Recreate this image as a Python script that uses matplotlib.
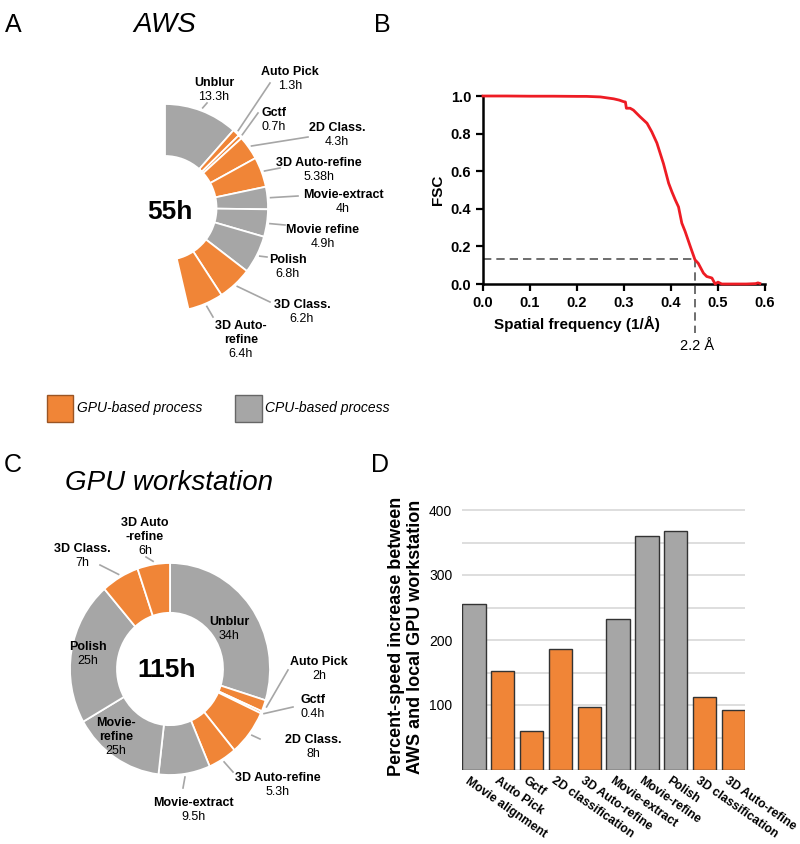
import matplotlib.pyplot as plt
import matplotlib.patches as mpatches
import matplotlib.transforms as mtransforms
import numpy as np

plt.rcParams['font.family'] = ['Liberation Sans', 'DejaVu Sans']

W, H = 800, 844
ORANGE = '#F08537'
GRAY = '#A6A6A6'
LEAD = '#A6A6A6'

# A: AWS processing time per step (hours)
aws_steps = ['Unblur', 'Auto Pick', 'Gctf', '2D Class.', '3D Auto-refine', 'Movie-extract',
             'Movie refine', 'Polish', '3D Class.', '3D Auto-\nrefine']
aws_hours = [13.3, 1.3, 0.7, 4.3, 5.38, 4, 4.9, 6.8, 6.2, 6.4]
aws_gpu = [False, True, True, True, True, False, False, False, True, True]
aws_total = '55h'
full_circle_hours = 115  # AWS ring is drawn on the 115h scale of the workstation

# C: GPU workstation processing time per step
ws_steps = ['Unblur', 'Auto Pick', 'Gctf', '2D Class.', '3D Auto-refine', 'Movie-extract',
            'Movie-\nrefine', 'Polish', '3D Class.', '3D Auto\n-refine']
ws_hour_labels = ['34h', '2h', '0.4h', '8h', '5.3h', '9.5h', '25h', '25h', '7h', '6h']
# wedge sizes as drawn in the figure (the Movie-refine wedge is drawn at ~17h)
ws_wedge_hours = [34, 2, 0.4, 8, 5.3, 9.5, 17, 25, 7, 6]
ws_gpu = [False, True, True, True, True, False, False, False, True, True]
ws_total = '115h'

# B: FSC curve
fsc_freq = [0, 0.05, 0.10, 0.15, 0.20, 0.22, 0.25, 0.278, 0.29, 0.299, 0.303, 0.305, 0.313,
            0.32, 0.334, 0.349, 0.359, 0.370, 0.384, 0.395, 0.402, 0.409, 0.416, 0.423, 0.430,
            0.441, 0.451, 0.458, 0.469, 0.476, 0.487, 0.494, 0.5, 0.508, 0.52, 0.54, 0.56,
            0.58, 0.585, 0.589]
fsc_val = [1.0, 1.0, 0.999, 0.999, 0.998, 0.998, 0.995, 0.985, 0.978, 0.970, 0.968, 0.935,
           0.935, 0.925, 0.89, 0.855, 0.81, 0.75, 0.64, 0.536, 0.49, 0.448, 0.41, 0.324, 0.28,
           0.20, 0.129, 0.11, 0.058, 0.04, 0.032, 0.0, 0.01, 0.0, 0.0, 0.0, 0.0, 0.002, 0.006,
           0.003]
fsc_cutoff = 0.134
res_freq = 0.45
res_label = '2.2 Å'

# D: speed increase
speed_steps = ['Movie alignment', 'Auto Pick', 'Gctf', '2D classification', '3D Auto-refine',
               'Movie-extract', 'Movie-refine', 'Polish', '3D classification', '3D Auto-refine']
speed_increase = [255, 153, 60, 186, 97, 233, 360, 367, 112, 93]
speed_gpu = [False, True, True, True, True, False, False, False, True, True]


def box(x0, y0, x1, y1):
    return [x0 / W, 1 - y1 / H, (x1 - x0) / W, (y1 - y0) / H]


def ftext(x, y, s, **kw):
    fig.text(x / W, 1 - y / H, s, ha='center', va='center', **kw)


def to_ring(x, y, ring):
    cx, cy, rx, ry = ring
    return (x - cx) / rx, (cy - y) / ry


def ring_axes(ring):
    cx, cy, rx, ry = ring
    return fig.add_axes(box(cx - 1.3 * rx, cy - 1.3 * ry, cx + 1.3 * rx, cy + 1.3 * ry))


def finish_ring(ax):
    ax.set_aspect('auto')
    ax.set_xlim(-1.3, 1.3)
    ax.set_ylim(-1.3, 1.3)
    ax.axis('off')


def ring_labels(ax, ring, wedges, names, hour_texts, anchors, ends):
    for w, name, ht, (lx, ly), end in zip(wedges, names, hour_texts, anchors, ends):
        lines = name.split('\n')
        for i, ln in enumerate(lines):
            ax.text(*to_ring(lx, ly + 14 * i, ring), ln, ha='center', va='center',
                    fontsize=9, fontweight='bold')
        ax.text(*to_ring(lx, ly + 14 * len(lines), ring), ht, ha='center',
                va='center', fontsize=9)
        if end is not None:
            a = np.deg2rad((w.theta1 + w.theta2) / 2)
            ex, ey = to_ring(end[0], end[1], ring)
            ax.plot([1.03 * np.cos(a), ex], [1.03 * np.sin(a), ey], color=LEAD, lw=1.2,
                    clip_on=False)


fig = plt.figure(figsize=(8, 8.44), dpi=100)

# ---- A ----
ring_a = (165, 208, 103, 104)
axA = ring_axes(ring_a)
wedges_a, _ = axA.pie(np.array(aws_hours) / full_circle_hours, normalize=False,
                      startangle=90, counterclock=False,
                      colors=[ORANGE if g else GRAY for g in aws_gpu],
                      wedgeprops=dict(width=0.5, edgecolor='white', linewidth=1.3))
finish_ring(axA)
aws_anchor = [(214, 83), (290, 72), (274, 113), (337, 128), (319, 163), (343, 195),
              (323, 230), (288, 260), (302, 305), (241, 326)]
aws_ends = [(207, 103), (270, 83), (258, 113), (308, 137), (280, 168), (298, 196),
            (285, 225), (267, 257), (270, 302), (213, 317)]
ring_labels(axA, ring_a, wedges_a, aws_steps, [f'{h:g}h' for h in aws_hours],
            aws_anchor, aws_ends)
axA.text(*to_ring(170, 212, ring_a), aws_total, ha='center', va='center', fontsize=19,
         fontweight='bold')

# ---- C ----
ring_c = (170, 669, 100, 106)
axC = ring_axes(ring_c)
wedges_c, _ = axC.pie(ws_wedge_hours, startangle=90, counterclock=False,
                      colors=[ORANGE if g else GRAY for g in ws_gpu],
                      wedgeprops=dict(width=0.47, edgecolor='white', linewidth=1.3))
finish_ring(axC)
ws_anchor = [(229, 622), (319, 662), (313, 700), (313, 740), (278, 778), (193, 803),
             (116, 723), (88, 647), (82, 549), (145, 523)]
ws_ends = [None, (288, 670), (293, 707), (260, 739), (233, 772), (183, 788),
           None, None, (100, 565), (146, 557)]
ring_labels(axC, ring_c, wedges_c, ws_steps, ws_hour_labels, ws_anchor, ws_ends)
axC.text(*to_ring(167, 670, ring_c), ws_total, ha='center', va='center', fontsize=19,
         fontweight='bold')

# ---- B ----
axB = fig.add_axes(box(483, 96, 765, 284))
axB.plot(fsc_freq, fsc_val, color='#EE1C24', lw=2, clip_on=False, zorder=3)
axB.plot([0, res_freq], [fsc_cutoff, fsc_cutoff], color='#555555', lw=1.2, ls=(0, (5, 3)))
axB.plot([res_freq, res_freq], [fsc_cutoff, -0.26], color='#555555', lw=1.2,
         ls=(0, (5, 3)), clip_on=False)
axB.text(res_freq + 0.005, -0.33, res_label, ha='center', va='center', fontsize=10.5)
axB.set_xlim(0, 0.6)
axB.set_ylim(0, 1.0)
axB.set_xticks(np.arange(0, 0.61, 0.1))
axB.set_yticks(np.arange(0, 1.01, 0.2))
axB.xaxis.set_major_formatter('{x:.1f}')
axB.yaxis.set_major_formatter('{x:.1f}')
for s in ['top', 'right']:
    axB.spines[s].set_visible(False)
for s in ['left', 'bottom']:
    axB.spines[s].set_linewidth(1.8)
axB.tick_params(direction='out', length=5, width=1.6, labelsize=10.5)
for lab in axB.get_xticklabels() + axB.get_yticklabels():
    lab.set_fontweight('bold')
axB.set_xlabel('Spatial frequency (1/Å)', fontsize=11, fontweight='bold')
axB.xaxis.set_label_coords(0.333, -0.17)
axB.set_ylabel('FSC', fontsize=11, fontweight='bold', labelpad=4)

# ---- D ----
axD = fig.add_axes(box(462, 503.5, 745, 770))
pos = np.arange(len(speed_steps))
axD.bar(pos, speed_increase, width=0.81, color=[ORANGE if g else GRAY for g in speed_gpu],
        edgecolor='#333333', linewidth=1.0, zorder=3)
axD.set_xlim(-0.41, 9.4)
axD.set_ylim(0, 410)
axD.set_yticks(np.arange(0, 401, 50))
axD.set_yticklabels(['' if (v % 100 or v == 0) else str(v) for v in range(0, 401, 50)])
axD.grid(axis='y', color='#D4D4D4', lw=1.1)
axD.set_axisbelow(True)
for s in axD.spines.values():
    s.set_visible(False)
axD.tick_params(length=0, labelsize=10)
axD.tick_params(axis='y', pad=7)
axD.set_xticks(pos)
axD.set_xticklabels(speed_steps, rotation=-35, ha='left', va='top', rotation_mode='anchor',
                    fontsize=8.8, fontweight='bold')
shift = mtransforms.ScaledTranslation(-4 / 100, 0, fig.dpi_scale_trans)
for lab in axD.get_xticklabels():
    lab.set_transform(lab.get_transform() + shift)
axD.set_ylabel('Percent-speed increase between\nAWS and local GPU workstation', fontsize=13,
               fontweight='bold', linespacing=1.1)
axD.yaxis.set_label_coords(-0.135, 0.5)

# ---- legend, titles, panel letters ----
fig.add_artist(mpatches.Rectangle((47 / W, 1 - 422 / H), 26 / W, 27 / H, facecolor=ORANGE,
                                  edgecolor='#9A5524', lw=1, transform=fig.transFigure))
fig.add_artist(mpatches.Rectangle((235 / W, 1 - 422 / H), 27 / W, 27 / H, facecolor=GRAY,
                                  edgecolor='#666666', lw=1, transform=fig.transFigure))
fig.text(77 / W, 1 - 408 / H, 'GPU-based process', ha='left', va='center', fontsize=10,
         style='italic')
fig.text(265 / W, 1 - 408 / H, 'CPU-based process', ha='left', va='center', fontsize=10,
         style='italic')

ftext(165, 25, 'AWS', fontsize=20, style='italic')
ftext(169, 483, 'GPU workstation', fontsize=20, style='italic')
for letter, x, y in [('A', 13, 25), ('B', 382, 25), ('C', 13, 465), ('D', 380, 465)]:
    ftext(x, y, letter, fontsize=18)

fig.savefig('out.png', dpi=100)
